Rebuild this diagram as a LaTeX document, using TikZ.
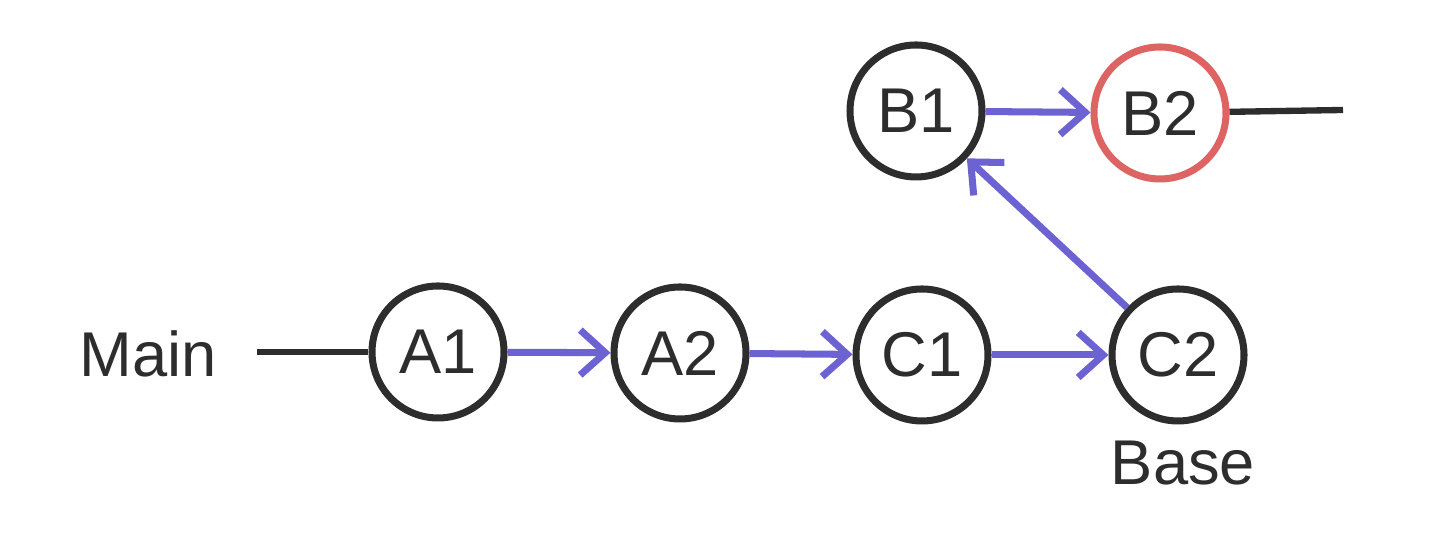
\documentclass[tikz,border=0pt]{standalone}
\usepackage{fontspec}
\setmainfont{Liberation Sans}
\usetikzlibrary{arrows.meta}
\definecolor{commitblue}{RGB}{108,98,210}
\definecolor{commitred}{RGB}{222,100,100}
\definecolor{pencil}{RGB}{45,45,45}
\tikzset{
  commit/.style={draw=pencil, circle, line width=2pt, minimum size=1.32cm, inner sep=0pt, font=\fontsize{18}{20}\selectfont, text=pencil},
  kfresh/.style={commit, draw=commitred},
  klabel/.style={font=\fontsize{18}{20}\selectfont, text=pencil},
  flow/.style={-{Straight Barb[length=2.5mm, width=4.5mm]}, line width=2pt, draw=commitblue},
  stub/.style={line width=1.8pt, draw=pencil},
}
\begin{document}
\begin{tikzpicture}
    \useasboundingbox (0,0) rectangle (14.49,5.41);
    \node[klabel] (main) at (1.48,1.87) {Main};
    \node[commit] (a1) at (4.38,1.89) {A1};
    \node[commit] (a2) at (6.80,1.88) {A2};
    \node[commit] (c1) at (9.22,1.86) {C1};
    \node[commit] (c2) at (11.78,1.86) {C2};
    \node[commit] (b1) at (9.16,4.30) {B1};
    \node[kfresh] (b2) at (11.60,4.28) {B2};
    \node[klabel] (base) at (11.83,0.78) {Base};
    \coordinate (mainend) at (2.57,1.89);
    \coordinate (tail) at (13.43,4.31);
    \draw[stub] (mainend) -- (a1);
    \draw[stub] (b2) -- (tail);
    \draw[flow] (a1) -- (a2);
    \draw[flow] (a2) -- (c1);
    \draw[flow] (c1) -- (c2);
    \draw[flow] (c2) -- (b1);
    \draw[flow] (b1) -- (b2);
  \end{tikzpicture}
\end{document}
